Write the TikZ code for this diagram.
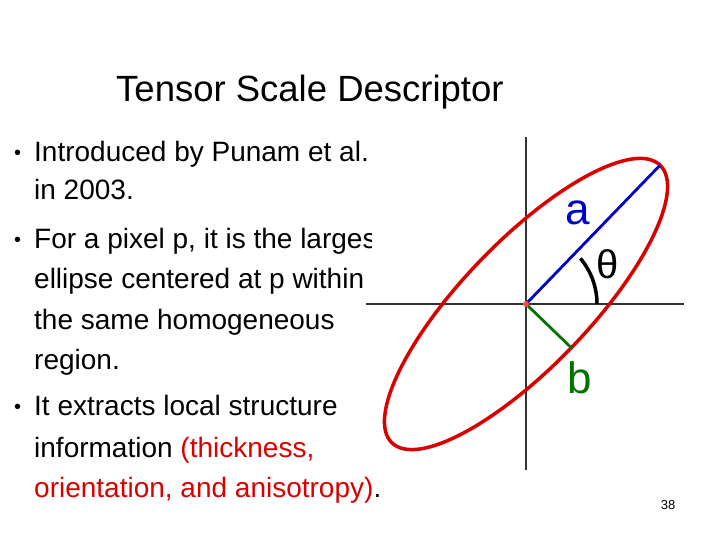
\documentclass[tikz,border=0pt]{standalone}
\usepackage{fontspec}
\setmainfont{Liberation Sans}
\begin{document}
\begin{tikzpicture}[x=1pt,y=-1pt,
  tx/.style={anchor=base west,inner sep=0pt,font=\fontsize{28}{32}\selectfont},
  bul/.style={anchor=base west,inner sep=0pt,font=\fontsize{20}{24}\selectfont},
  ax/.style={draw=black!80,line width=2pt}]
\useasboundingbox[fill=white] (0,0) rectangle (720,540);
\node[anchor=base west,inner sep=0pt,font=\fontsize{36.5}{40}\selectfont] (title) at (116,102) {Tensor Scale Descriptor};
\node[bul] (b1) at (14,160) {•};
\node[tx] (t1) at (34,162) {Introduced by Punam et al.};
\node[tx] (t2) at (34,200) {in 2003.};
\node[bul] (b2) at (14,246) {•};
\node[tx] (t3) at (34,248) {For a pixel p, it is the largest};
\node[tx] (t4) at (34,288) {ellipse centered at p within};
\node[tx] (t5) at (34,329) {the same homogeneous};
\node[tx] (t6) at (34,369) {region.};
\node[bul] (b3) at (14,413) {•};
\node[tx] (t7) at (34,415) {It extracts local structure};
\node[tx] (t8) at (34,457) {information \textcolor{red!85!black}{(thickness,}};
\node[tx] (t9) at (34,497) {\textcolor{red!85!black}{orientation, and anisotropy)}.};
\fill[white] (372,135) rectangle (700,475);
\coordinate (o) at (526,304);
\draw[ax] (526,137) -- (526,470);
\draw[ax] (366,304) -- (684,304);
\draw[red!85!black,line width=3.5pt,rotate around={46:(o)}] (o) ellipse [x radius=193,y radius=63];
\draw[blue!80!black,line width=2.8pt] (o) -- ++(-46:193) coordinate (ae);
\draw[green!45!black,line width=2.8pt] (o) -- ++(44:64) coordinate (be);
\draw[black,line width=3.5pt] (o) ++(-40:71) arc[start angle=-40,end angle=0,radius=71];
\node[text=blue!80!black,font=\fontsize{44}{48}\selectfont,inner sep=0pt] (la) at (578,213) {a};
\node[font=\fontsize{40}{44}\selectfont,inner sep=0pt] (lth) at (608,264) {θ};
\node[text=green!45!black,font=\fontsize{44}{48}\selectfont,inner sep=0pt] (lb) at (580,378) {b};
\node[font=\fontsize{13}{15}\selectfont,inner sep=0pt] (pg) at (668,505) {38};
\fill[red!70] (o) circle (3);
\end{tikzpicture}
\end{document}
